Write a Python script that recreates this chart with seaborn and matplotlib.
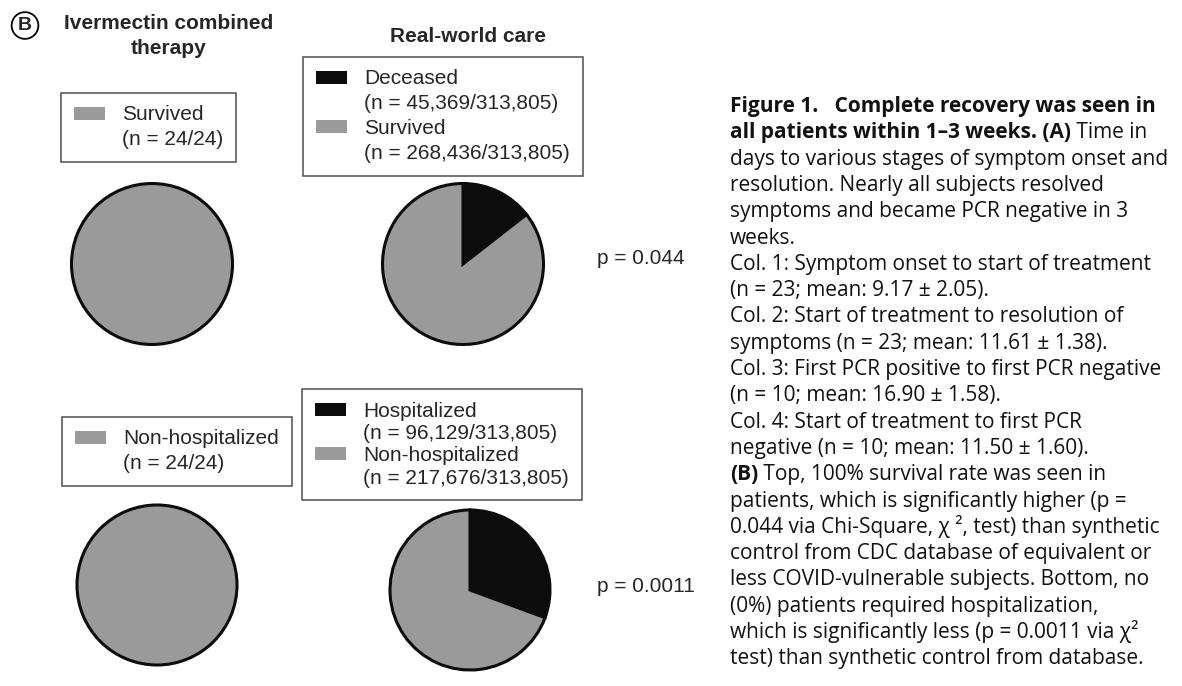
import matplotlib
matplotlib.use("Agg")
import matplotlib.pyplot as plt
import matplotlib.patches as mpatches
import seaborn as sns

# ---- data ----
total_rwc = 313805
ivm_total = 24
survival_labels = ["Deceased", "Survived"]
rwc_survival = [45369, 268436]
ivm_survival = [24]
hosp_labels = ["Hospitalized", "Non-hospitalized"]
rwc_hosp = [96129, 217676]
ivm_hosp = [24]
p_values = ["p = 0.044", "p = 0.0011"]
col_titles = ["Ivermectin combined\ntherapy", "Real-world care"]

caption_lines = [
    ("Figure 1.   Complete recovery was seen in", ""),
    ("all patients within 1\u20133 weeks. (A)", " Time in"),
    ("", "days to various stages of symptom onset and"),
    ("", "resolution. Nearly all subjects resolved"),
    ("", "symptoms and became PCR negative in 3"),
    ("", "weeks."),
    ("", "Col. 1: Symptom onset to start of treatment"),
    ("", "(n = 23; mean: 9.17 \u00b1 2.05)."),
    ("", "Col. 2: Start of treatment to resolution of"),
    ("", "symptoms (n = 23; mean: 11.61 \u00b1 1.38)."),
    ("", "Col. 3: First PCR positive to first PCR negative"),
    ("", "(n = 10; mean: 16.90 \u00b1 1.58)."),
    ("", "Col. 4: Start of treatment to first PCR"),
    ("", "negative (n = 10; mean: 11.50 \u00b1 1.60)."),
    ("(B)", " Top, 100% survival rate was seen in"),
    ("", "patients, which is significantly higher (p ="),
    ("", "0.044 via Chi-Square, \u03c7 \u00b2, test) than synthetic"),
    ("", "control from CDC database of equivalent or"),
    ("", "less COVID-vulnerable subjects. Bottom, no"),
    ("", "(0%) patients required hospitalization,"),
    ("", "which is significantly less (p = 0.0011 via \u03c7\u00b2"),
    ("", "test) than synthetic control from database."),
]

sns.set_theme(style="white")
plt.rcParams['font.family'] = ['Liberation Sans', 'DejaVu Sans']
colors = sns.color_palette(["#0c0c0c", "#9a9a9a"])
grey = colors[1]

W, H = 1182, 686
fig = plt.figure(figsize=(W / 100, H / 100), dpi=100)
fig.patch.set_facecolor("white")


def fx(x):
    return x / W


def fy(y):
    return 1 - y / H


def pie_at(cx, cy, r, values, cols):
    s = 2.2 * r
    ax = fig.add_axes([fx(cx - s / 2), fy(cy + s / 2), s / W, s / H])
    ax.pie(values, colors=cols, startangle=90, counterclock=False,
           wedgeprops=dict(edgecolor="#0c0c0c", linewidth=2.2))
    ax.set_xlim(-1.1, 1.1)
    ax.set_ylim(-1.1, 1.1)
    ax.set_aspect("equal")
    return ax


def legend_at(x, y, entries, spacing=0.28):
    handles, labels = [], []
    for name, count, col in entries:
        handles.append(mpatches.Patch(facecolor=col, edgecolor="none"))
        labels.append(name)
        handles.append(mpatches.Patch(facecolor="none", edgecolor="none"))
        labels.append(count)
    leg = fig.legend(handles, labels, loc="upper left",
                     bbox_to_anchor=(fx(x), fy(y)), bbox_transform=fig.transFigure,
                     borderaxespad=0, frameon=True, fancybox=False,
                     prop={'family': 'Liberation Sans', 'size': 15},
                     handlelength=1.5, handleheight=0.58, handletextpad=0.85,
                     labelspacing=spacing, borderpad=0.6)
    leg.get_frame().set_edgecolor("#222222")
    leg.get_frame().set_linewidth(1.1)
    return leg


# top row: survival
pie_at(152, 264, 80.5, ivm_survival, [grey])
pie_at(463, 264, 80.5, rwc_survival, colors)
# bottom row: hospitalization
pie_at(157, 585, 80, ivm_hosp, [grey])
pie_at(470, 590, 80, rwc_hosp, colors)

legend_at(61, 93, [("Survived", f"(n = {ivm_survival[0]}/{ivm_total})", grey)])
legend_at(303, 57, [(survival_labels[i], f"(n = {rwc_survival[i]:,}/{total_rwc:,})", colors[i])
                    for i in range(2)])
legend_at(62, 417, [("Non-hospitalized", f"(n = {ivm_hosp[0]}/{ivm_total})", grey)])
legend_at(302, 389, [(hosp_labels[i], f"(n = {rwc_hosp[i]:,}/{total_rwc:,})", colors[i])
                     for i in range(2)], spacing=0.16)

# column titles and panel label
fig.text(fx(169), fy(36), col_titles[0], ha="center", va="center",
         fontsize=15, fontweight="bold", linespacing=1.35)
fig.text(fx(468), fy(37), col_titles[1], ha="center", va="center",
         fontsize=15, fontweight="bold")
fig.text(fx(25), fy(25.5), "B", ha="center", va="center", fontsize=14, fontweight="bold",
         bbox=dict(boxstyle="circle,pad=0.25", fc="white", ec="black", lw=1.3))

# p values
fig.text(fx(597), fy(259), p_values[0], ha="left", va="center", fontsize=15)
fig.text(fx(597), fy(587), p_values[1], ha="left", va="center", fontsize=15)

# caption
cap_font = ['Open Sans', 'DejaVu Sans']
cap_size = 15
for i, (bold, normal) in enumerate(caption_lines):
    yb = fy(112 + 26.3 * i)
    if bold:
        t = fig.text(fx(730), yb, bold, ha="left", va="baseline", fontsize=cap_size,
                     fontweight="bold", family=cap_font, color="#111111")
        if normal:
            plt.annotate(normal, xy=(1, 0), xycoords=t, ha="left", va="bottom",
                         fontsize=cap_size, family=cap_font, color="#111111",
                         annotation_clip=False)
    else:
        fig.text(fx(730), yb, normal, ha="left", va="baseline", fontsize=cap_size,
                 family=cap_font, color="#111111")

fig.savefig("out.png", dpi=100, facecolor="white")
